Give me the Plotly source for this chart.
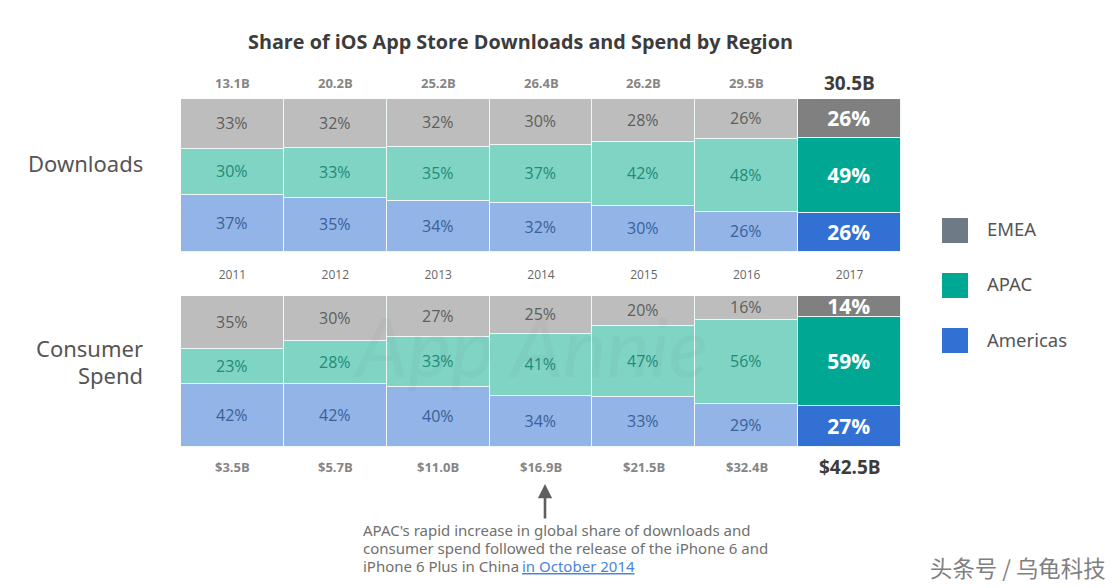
import plotly.graph_objects as go
from plotly.subplots import make_subplots

W, H = 1120, 588

years = ["2011", "2012", "2013", "2014", "2015", "2016", "2017"]
downloads_total = ["13.1B", "20.2B", "25.2B", "26.4B", "26.2B", "29.5B", "30.5B"]
spend_total = ["$3.5B", "$5.7B", "$11.0B", "$16.9B", "$21.5B", "$32.4B", "$42.5B"]

dl_americas = [37, 35, 34, 32, 30, 26, 26]
dl_apac = [30, 33, 35, 37, 42, 48, 49]
dl_emea = [33, 32, 32, 30, 28, 26, 26]

sp_americas = [42, 42, 40, 34, 33, 29, 27]
sp_apac = [23, 28, 33, 41, 47, 56, 59]
sp_emea = [35, 30, 27, 25, 20, 16, 14]

regions = ["Americas", "APAC", "EMEA"]
light = {"Americas": "#92b4e6", "APAC": "#7fd4c4", "EMEA": "#bdbdbd"}
dark = {"Americas": "#3370d3", "APAC": "#00a894", "EMEA": "#808080"}
label_col = {"Americas": "#3a6199", "APAC": "#1f8b78", "EMEA": "#5e5e5e"}
legend_col = {"EMEA": "#6f7a87", "APAC": "#00a894", "Americas": "#3370d3"}

FONT = "Open Sans"
ROUND = "Noto Sans"


def px(x):
    return x / W


def py(y):
    return 1 - y / H


fig = make_subplots(rows=2, cols=1)

# barres empilees, la derniere annee en couleur pleine
for row, series in [(1, [dl_americas, dl_apac, dl_emea]), (2, [sp_americas, sp_apac, sp_emea])]:
    for name, vals in zip(regions, series):
        fig.add_trace(go.Bar(
            x=years, y=vals, name=name, showlegend=False,
            marker=dict(color=[light[name]] * 6 + [dark[name]],
                        line=dict(color="#eef8f6", width=1.5)),
            text=[f"{v}%" for v in vals[:6]] + [f"<b>{vals[6]}%</b>"],
            textposition="inside", insidetextanchor="middle", textangle=0,
            constraintext="none",
            textfont=dict(family=FONT, size=[16] * 6 + [21],
                          color=[label_col[name]] * 6 + ["#ffffff"]),
            hoverinfo="skip",
        ), row=row, col=1)

fig.update_layout(
    width=W, height=H, barmode="stack", barnorm="percent", bargap=0,
    margin=dict(l=0, r=0, t=0, b=0), paper_bgcolor="white", plot_bgcolor="white",
    showlegend=False,
)
fig.update_yaxes(range=[0, 100], visible=False, fixedrange=True)
fig.update_xaxes(type="category", domain=[px(181), px(901)], range=[-0.5, 6.5], showgrid=False,
                 zeroline=False, showline=False, ticks="")
fig.update_layout(
    yaxis=dict(domain=[py(252), py(99)]),
    yaxis2=dict(domain=[py(447), py(296)]),
    xaxis=dict(showticklabels=False),
    xaxis2=dict(side="top", ticklabelstandoff=14,
                tickfont=dict(family=FONT, size=12, color="#666666")),
)

ann = []


def note(x, y, text, size, color="#555555", anchor="left", xref="paper", family=FONT, **kw):
    ann.append(dict(x=x if xref != "paper" else px(x), y=py(y), xref=xref, yref="paper", text=text,
                    showarrow=False, xanchor=anchor, yanchor="middle", align=anchor,
                    font=dict(family=family, size=size, color=color, **kw)))


note(520, 42, "<b>Share of iOS App Store Downloads and Spend by Region</b>", 19.8, "#3c3c3c", "center")

# totaux au-dessus et au-dessous des barres
for i, year in enumerate(years):
    last = i == len(years) - 1
    note(i, 83, f"<b>{downloads_total[i]}</b>", 19 if last else 13,
         "#3c3c3c" if last else "#858585", "center", "x")
    note(i, 467, f"<b>{spend_total[i]}</b>", 19 if last else 13,
         "#3c3c3c" if last else "#858585", "center", "x2")

note(145, 163, "Downloads", 22, "#555555", "right", family=ROUND)
note(145, 348, "Consumer", 22, "#555555", "right", family=ROUND)
note(145, 375, "Spend", 22, "#555555", "right", family=ROUND)

# legende a droite
shapes = []
for name, yc, yt in [("EMEA", 230.5, 228), ("APAC", 285.5, 283), ("Americas", 340.5, 339)]:
    shapes.append(dict(type="rect", xref="paper", yref="paper", x0=px(942), x1=px(968),
                       y0=py(yc + 12.5), y1=py(yc - 12.5), fillcolor=legend_col[name], line_width=0))
    note(985, yt, name, 18.5, "#555555", family=ROUND)

# filigrane
ann.append(dict(x=px(530), y=py(345), xref="paper", yref="paper", text="<i>App Annie</i>", showarrow=False,
                font=dict(family="Lato", size=82, color="rgba(90,90,90,0.05)")))

# fleche et commentaire
ann.append(dict(x=px(545), y=py(484), ax=0, ay=36, xref="paper", yref="paper",
                text="", showarrow=True, arrowhead=2,
                arrowsize=1.1, arrowwidth=2.6, arrowcolor="#5f5f5f"))
note(361, 530, "APAC's rapid increase in global share of downloads and", 15, "#707070", family=ROUND)
note(361, 548, "consumer spend followed the release of the iPhone 6 and", 15, "#707070", family=ROUND)
note(361, 566, "iPhone 6 Plus in China", 15, "#707070", family=ROUND)
note(520, 566, "in October 2014", 15, "#4a86d8", family=ROUND, lineposition="under")

note(928, 567, "头条号 / 乌龟科技", 22.4, "#7f7f7f", family="Noto Sans CJK SC")

fig.update_layout(annotations=ann, shapes=shapes)

fig.write_html("out.html", config={"displayModeBar": False},
               post_script="document.body.style.margin = '0';")
